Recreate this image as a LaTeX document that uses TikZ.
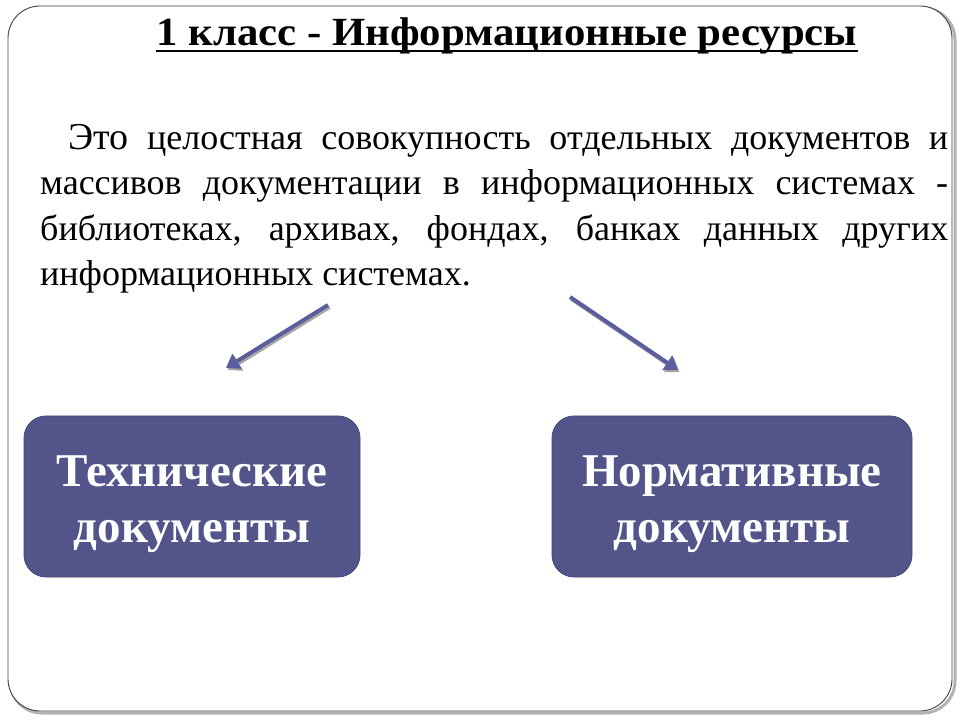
\documentclass[tikz,border=0pt]{standalone}
\usepackage{fontspec}
\setmainfont{Liberation Serif}
\newfontfamily\titlefont[FakeStretch=1.07]{Liberation Serif}
\usetikzlibrary{arrows.meta}
\definecolor{boxblue}{HTML}{52548A}
\definecolor{arrowblue}{HTML}{5A5E9C}
\tikzset{
  docbox/.style={draw=boxblue!85!black, line width=0.8pt, fill=boxblue, rounded corners=22pt,
    minimum height=161pt, inner sep=0pt},
  boxlabel/.style={text=white, font=\bfseries\fontsize{47}{56}\selectfont, align=center, inner sep=0pt},
  linkarrow/.style={draw=arrowblue, line width=4pt, -{Triangle[length=13pt,width=17pt]}},
  linkshadow/.style={draw=gray!70, line width=4pt, -{Triangle[length=13pt,width=17pt]}},
}
\begin{document}
\begin{tikzpicture}[x=1pt,y=1pt]
\useasboundingbox (0,0) rectangle (960,720);
% frame with shadow
\draw[gray!60, line width=3pt, rounded corners=32pt] (10,7) rectangle (955,712);
\draw[black!75, line width=0.9pt, fill=white, rounded corners=32pt] (8,9) rectangle (952,714);
% title
\node[anchor=base, font=\titlefont\bfseries\fontsize{40}{48}\selectfont, inner sep=0pt] (title) at (507,674)
  {1 класс - Информационные ресурсы};
\draw[line width=2.5pt] ([yshift=-5pt]title.base west) -- ([yshift=-5pt]title.base east);
% body text
\node[anchor=north west, inner sep=0pt, text width=908pt, align=justify,
  font=\fontsize{36}{45.5}\selectfont] (body) at (40,596)
  {\hspace*{28pt}{\fontsize{38}{45.5}\selectfont Это} целостная совокупность отдельных документов и массивов документации в информационных системах - библиотеках, архивах, фондах, банках данных других информационных системах.\par};
% boxes
\node[docbox, minimum width=336pt] (tech) at (192,223.5) {};
\node[boxlabel] (techtext) at ([yshift=-8pt]tech.center) {Технические\\документы};
\node[docbox, minimum width=360pt] (norm) at (732,223.5) {};
\node[boxlabel] (normtext) at ([yshift=-8pt]norm.center) {Нормативные\\документы};
% arrows
\coordinate (la) at (328,415);
\coordinate (lb) at (226,352);
\coordinate (ra) at (570,423);
\coordinate (rb) at (678,350);
\draw[linkshadow] ([shift={(1.5,-2)}]la) -- ([shift={(1.5,-2)}]lb);
\draw[linkshadow] ([shift={(1.5,-2)}]ra) -- ([shift={(1.5,-2)}]rb);
\draw[linkarrow] (la) -- (lb);
\draw[linkarrow] (ra) -- (rb);
\end{tikzpicture}
\end{document}
